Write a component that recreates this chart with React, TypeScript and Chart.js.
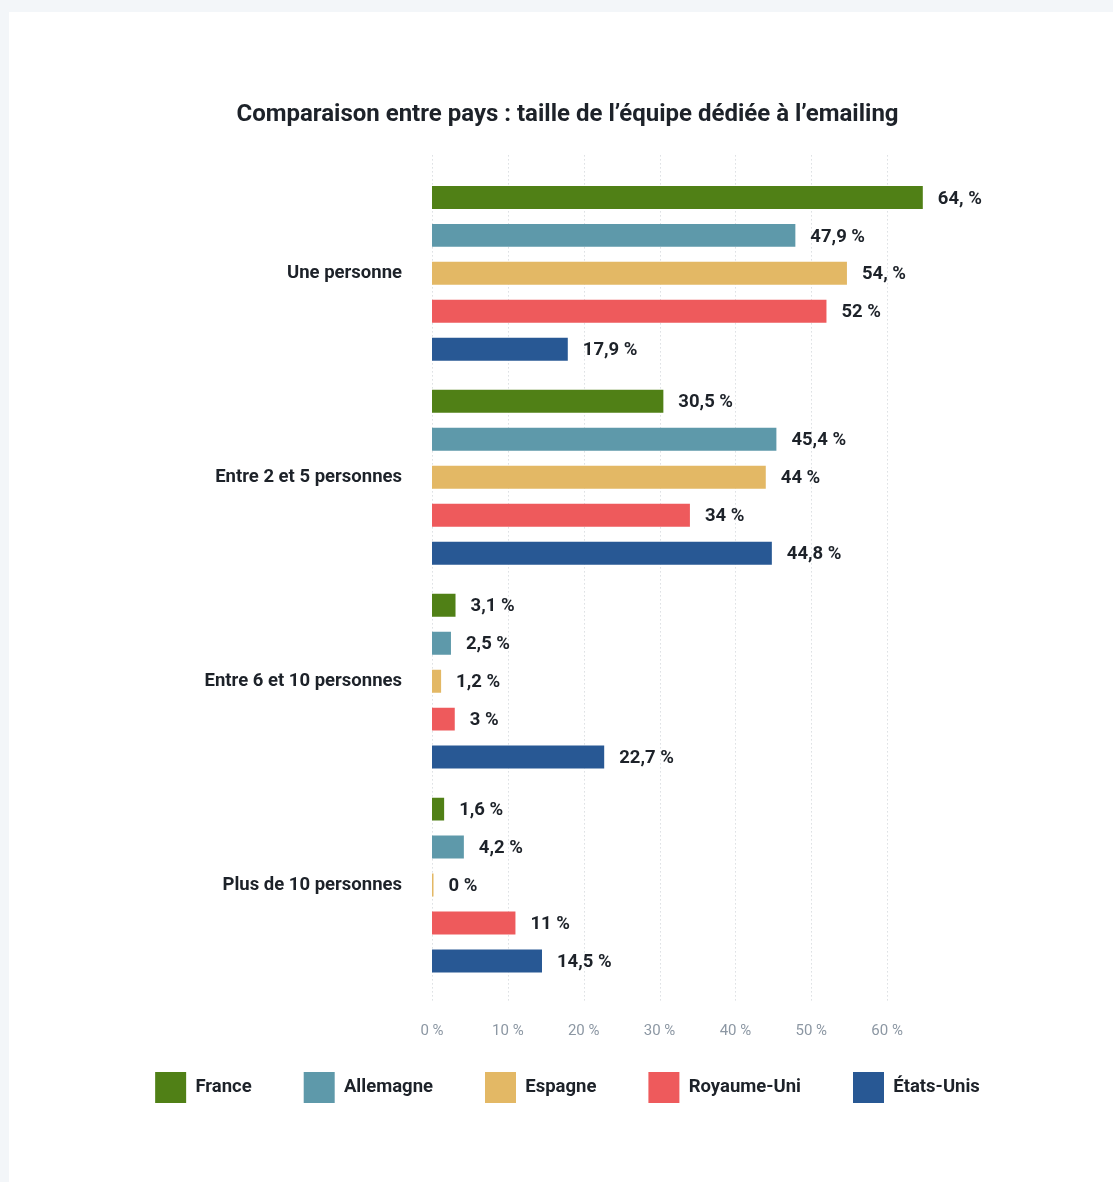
import React, { useEffect, useRef } from "react";
import { Chart, registerables } from "chart.js";

Chart.register(...registerables);

const categories = ["Une personne", "Entre 2 et 5 personnes", "Entre 6 et 10 personnes", "Plus de 10 personnes"];
const seriesNames = ["France", "Allemagne", "Espagne", "Royaume-Uni", "États-Unis"];
const seriesColors = ["#508016", "#5e99aa", "#e3b865", "#ee5a5c", "#285894"];

const franceValues = [64.7, 30.5, 3.1, 1.6];
const allemagneValues = [47.9, 45.4, 2.5, 4.2];
const espagneValues = [54.7, 44, 1.2, 0];
const royaumeUniValues = [52, 34, 3, 11];
const etatsUnisValues = [17.9, 44.8, 22.7, 14.5];

const franceLabels = ["64, %", "30,5 %", "3,1 %", "1,6 %"];
const allemagneLabels = ["47,9 %", "45,4 %", "2,5 %", "4,2 %"];
const espagneLabels = ["54, %", "44 %", "1,2 %", "0 %"];
const royaumeUniLabels = ["52 %", "34 %", "3 %", "11 %"];
const etatsUnisLabels = ["17,9 %", "44,8 %", "22,7 %", "14,5 %"];

const xTickValues = [0, 10, 20, 30, 40, 50, 60];
const xMax = 84.5;

const titleText = "Comparaison entre pays : taille de l’équipe dédiée à l’emailing";

const FONT = "Roboto, 'Noto Sans', sans-serif";
const DARK = "#1d2229";

export default function App() {
  const canvasRef = useRef<HTMLCanvasElement | null>(null);

  useEffect(() => {
    const canvas = canvasRef.current;
    if (!canvas) return;
    const allValues = [franceValues, allemagneValues, espagneValues, royaumeUniValues, etatsUnisValues];
    const allLabels = [franceLabels, allemagneLabels, espagneLabels, royaumeUniLabels, etatsUnisLabels];

    const gridPlugin = {
      id: "dottedGrid",
      beforeDatasetsDraw(chart: any) {
        const { ctx, chartArea } = chart;
        const xs = chart.scales.x;
        ctx.save();
        ctx.strokeStyle = "#c9ced3";
        ctx.lineWidth = 1;
        ctx.setLineDash([1, 3]);
        xTickValues.forEach((v) => {
          const px = Math.round(xs.getPixelForValue(v)) + 0.5;
          ctx.beginPath();
          ctx.moveTo(px, chartArea.top - 16);
          ctx.lineTo(px, chartArea.bottom + 16);
          ctx.stroke();
        });
        ctx.restore();
      },
    };

    const legendShift = {
      id: "legendShift",
      afterLayout(chart: any) {
        const l = chart.legend;
        if (l) {
          l.top -= 17;
          l.bottom -= 17;
        }
      },
    };

    const labelPlugin = {
      id: "barLabels",
      afterDatasetsDraw(chart: any) {
        const { ctx } = chart;
        ctx.save();
        ctx.font = `bold 18.5px ${FONT}`;
        ctx.fillStyle = DARK;
        ctx.textAlign = "left";
        ctx.textBaseline = "middle";
        chart.data.datasets.forEach((_: any, i: number) => {
          const meta = chart.getDatasetMeta(i);
          meta.data.forEach((bar: any, j: number) => {
            const { x, y } = bar.getProps(["x", "y"], true);
            ctx.fillText(allLabels[i][j], x + 15, y + 1.5);
          });
        });
        ctx.restore();
      },
    };

    const chart = new Chart(canvas, {
      type: "bar",
      data: {
        labels: categories,
        datasets: seriesNames.map((name, i) => ({
          label: name,
          data: allValues[i],
          backgroundColor: seriesColors[i],
          borderWidth: 0,
          categoryPercentage: 0.931,
          barPercentage: 0.605,
          minBarLength: 1.5,
        })),
      },
      options: {
        indexAxis: "y",
        responsive: false,
        animation: false,
        devicePixelRatio: 1,
        layout: { padding: { left: 62, right: 40, top: 0, bottom: 52 } },
        scales: {
          x: {
            min: 0,
            max: xMax,
            grid: { display: false, drawTicks: false },
            border: { display: false },
            afterBuildTicks: (scale: any) => {
              scale.ticks = xTickValues.map((v) => ({ value: v }));
            },
            afterFit: (scale: any) => {
              scale.height = 50;
            },
            ticks: {
              padding: 35,
              color: "#8c97a3",
              font: { family: FONT, size: 15, weight: "normal" },
              callback: (v: any) => `${v} %`,
            },
          },
          y: {
            grid: { display: false, drawTicks: false },
            border: { display: false },
            afterFit: (scale: any) => {
              scale.width = 370;
            },
            ticks: {
              padding: 30,
              color: DARK,
              font: { family: FONT, size: 18.5, weight: "bold" },
            },
          },
        },
        plugins: {
          title: {
            display: true,
            text: titleText,
            color: DARK,
            font: { family: FONT, size: 24, weight: "bold" },
            padding: { top: 101, bottom: 41.6 },
          },
          legend: {
            position: "bottom",
            labels: {
              boxWidth: 31,
              boxHeight: 31,
              padding: 52,
              color: DARK,
              font: { family: FONT, size: 18.5, weight: "bold" },
            },
          },
          tooltip: { enabled: false },
        },
      },
      plugins: [gridPlugin, labelPlugin, legendShift],
    } as any);

    return () => chart.destroy();
  }, []);

  return (
    <div style={{ position: "absolute", left: 0, top: 0, width: 1113, height: 1182, background: "#f3f6f9", overflow: "hidden" }}>
      <div style={{ position: "absolute", left: 9, top: 12, width: 1104, height: 1170, background: "#ffffff" }} />
      <canvas
        ref={canvasRef}
        width={1113}
        height={1182}
        style={{ position: "absolute", left: 0, top: 0, width: 1113, height: 1182 }}
      />
    </div>
  );
}
